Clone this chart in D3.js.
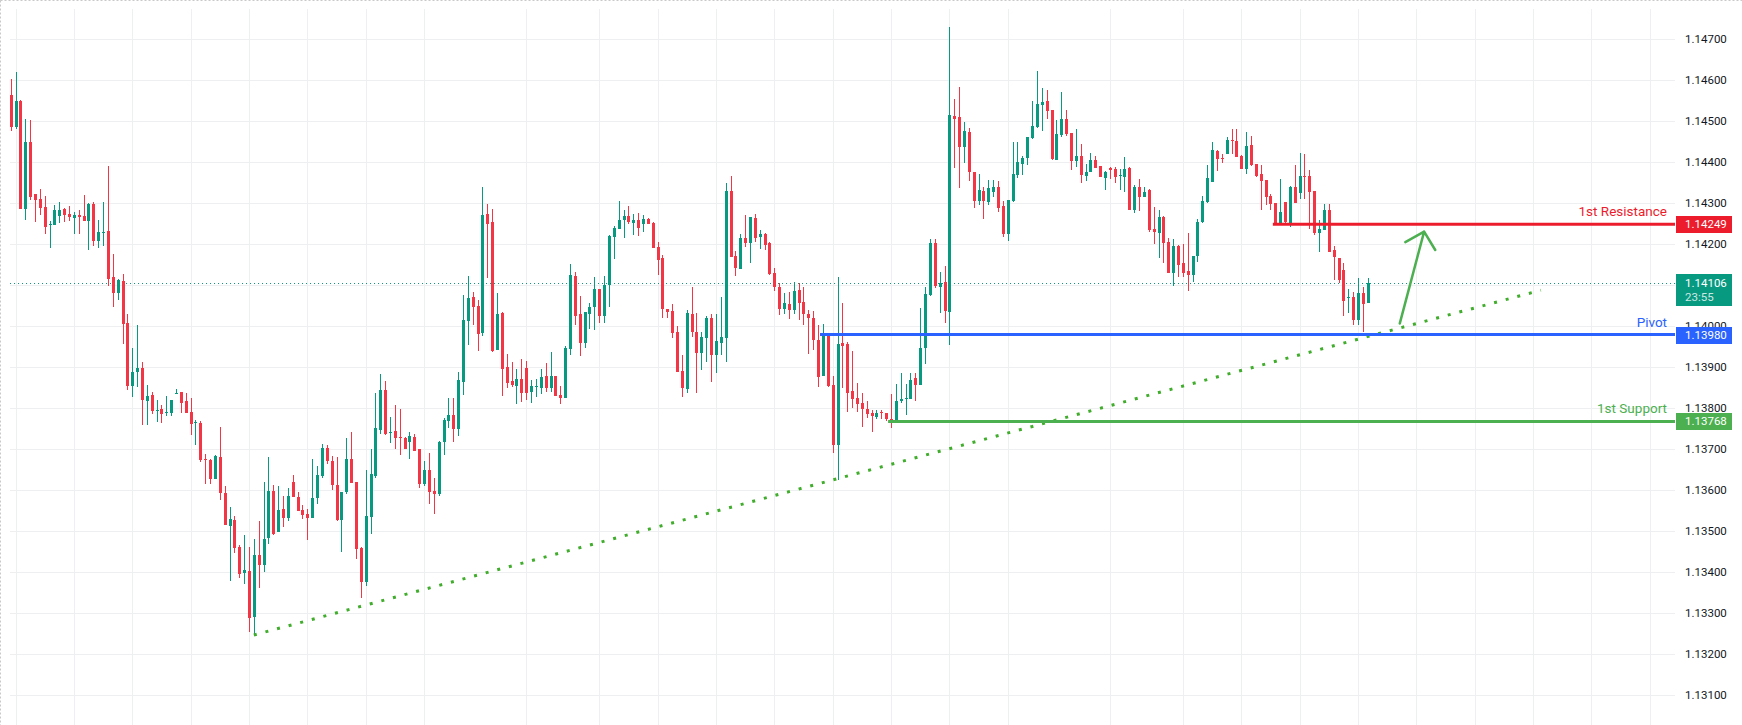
<!DOCTYPE html>
<html>
<head>
<meta charset="utf-8">
<script src="https://cdn.jsdelivr.net/npm/d3@7/dist/d3.min.js"></script>
<style>
  body { margin: 0; background: #fff; }
  svg { display: block; font-family: Roboto, "Noto Sans", sans-serif; }
</style>
</head>
<body>
<svg width="1742" height="725"></svg>
<script>
// hourly EUR/USD style candles
const opens = [1.14564,1.14485,1.14550,1.14285,1.14450,1.14322,1.14311,1.14291,1.14246,1.14248,
  1.14270,1.14286,1.14275,1.14265,1.14272,1.14269,1.14258,1.14298,1.14209,1.14228,
  1.14233,1.14120,1.14082,1.14111,1.14008,1.13854,1.13889,1.13898,1.13818,1.13833,
  1.13794,1.13798,1.13789,1.13789,1.13835,1.13840,1.13818,1.13791,1.13764,1.13764,
  1.13677,1.13674,1.13628,1.13681,1.13594,1.13513,1.13528,1.13462,1.13398,1.13403,
  1.13291,1.13442,1.13418,1.13484,1.13598,1.13498,1.13554,1.13533,1.13620,1.13584,
  1.13552,1.13542,1.13533,1.13581,1.13635,1.13703,1.13672,1.13613,1.13528,1.13596,
  1.13677,1.13620,1.13459,1.13377,1.13535,1.13635,1.13747,1.13845,1.13740,1.13745,
  1.13730,1.13728,1.13718,1.13730,1.13701,1.13616,1.13650,1.13598,1.13591,1.13718,
  1.13769,1.13784,1.13750,1.13864,1.14013,1.14072,1.14050,1.13984,1.14274,1.14255,
  1.13942,1.14033,1.13901,1.13867,1.13854,1.13872,1.13898,1.13840,1.13852,1.13850,
  1.13879,1.13850,1.13879,1.13833,1.13825,1.13945,1.14123,1.14030,1.13959,1.14030,
  1.14047,1.14091,1.14025,1.14101,1.14218,1.14238,1.14259,1.14269,1.14252,1.14259,
  1.14250,1.14262,1.14252,1.14194,1.14167,1.14042,1.14037,1.13986,1.13891,1.13847,
  1.14030,1.13986,1.13935,1.13972,1.14020,1.13930,1.13959,1.13972,1.14330,1.14172,
  1.14140,1.14216,1.14203,1.14264,1.14218,1.14225,1.14203,1.14130,1.14096,1.14042,
  1.14054,1.14040,1.14089,1.14059,1.14030,1.14020,1.13967,1.13879,1.13981,1.13857,
  1.13711,1.13959,1.13957,1.13842,1.13825,1.13813,1.13798,1.13789,1.13779,1.13791,
  1.13789,1.13774,1.13767,1.13818,1.13823,1.13823,1.13874,1.13857,1.13947,1.14077,
  1.14203,1.14096,1.14108,1.14035,1.14513,1.14511,1.14438,1.14474,1.14377,1.14306,
  1.14330,1.14303,1.14328,1.14340,1.14294,1.14225,1.14306,1.14369,1.14396,1.14411,
  1.14459,1.14486,1.14540,1.14550,1.14528,1.14406,1.14467,1.14506,1.14472,1.14403,
  1.14416,1.14367,1.14377,1.14406,1.14391,1.14362,1.14386,1.14384,1.14367,1.14364,
  1.14386,1.14284,1.14340,1.14315,1.14333,1.14238,1.14228,1.14267,1.14206,1.14130,
  1.14196,1.14155,1.14135,1.14125,1.14172,1.14255,1.14303,1.14352,1.14428,1.14411,
  1.14420,1.14455,1.14452,1.14416,1.14384,1.14442,1.14396,1.14372,1.14357,1.14318,
  1.14301,1.14250,1.14303,1.14247,1.14340,1.14325,1.14367,1.14367,1.14330,1.14228,
  1.14235,1.14284,1.14186,1.14167,1.14138,1.14069,1.14072,1.14016,1.14081,1.14057];

const highs = [1.14603,1.14620,1.14552,1.14506,1.14503,1.14322,1.14335,1.14318,1.14257,1.14296,
  1.14303,1.14289,1.14294,1.14279,1.14284,1.14320,1.14301,1.14303,1.14259,1.14303,
  1.14391,1.14177,1.14116,1.14128,1.14030,1.13947,1.14003,1.13913,1.13857,1.13840,
  1.13820,1.13808,1.13830,1.13820,1.13847,1.13840,1.13838,1.13825,1.13772,1.13769,
  1.13689,1.13677,1.13686,1.13755,1.13611,1.13559,1.13538,1.13467,1.13491,1.13462,
  1.13481,1.13525,1.13620,1.13681,1.13613,1.13611,1.13586,1.13606,1.13637,1.13596,
  1.13564,1.13554,1.13677,1.13659,1.13713,1.13711,1.13684,1.13681,1.13596,1.13728,
  1.13742,1.13620,1.13462,1.13650,1.13701,1.13838,1.13884,1.13867,1.13779,1.13808,
  1.13798,1.13730,1.13742,1.13738,1.13701,1.13672,1.13691,1.13630,1.13720,1.13776,
  1.13825,1.13825,1.13889,1.14077,1.14123,1.14084,1.14064,1.14340,1.14298,1.14286,
  1.14081,1.14035,1.13933,1.13913,1.13896,1.13920,1.13916,1.13869,1.13872,1.13896,
  1.13911,1.13937,1.13879,1.13854,1.13952,1.14152,1.14133,1.14074,1.14035,1.14057,
  1.14120,1.14091,1.14123,1.14222,1.14245,1.14306,1.14284,1.14294,1.14274,1.14276,
  1.14272,1.14264,1.14255,1.14206,1.14174,1.14042,1.14054,1.14001,1.13930,1.14040,
  1.14096,1.14033,1.13986,1.14025,1.14030,1.14030,1.14072,1.14350,1.14367,1.14184,
  1.14225,1.14272,1.14267,1.14274,1.14235,1.14228,1.14206,1.14142,1.14106,1.14081,
  1.14084,1.14108,1.14106,1.14096,1.14040,1.14037,1.14003,1.14006,1.13984,1.13879,
  1.14120,1.14057,1.13962,1.13940,1.13862,1.13838,1.13818,1.13796,1.13796,1.13796,
  1.13789,1.13835,1.13859,1.13886,1.13859,1.13886,1.13886,1.14045,1.14096,1.14213,
  1.14213,1.14133,1.14147,1.14730,1.14555,1.14584,1.14498,1.14484,1.14377,1.14372,
  1.14340,1.14357,1.14357,1.14355,1.14306,1.14308,1.14450,1.14450,1.14416,1.14462,
  1.14550,1.14623,1.14581,1.14577,1.14528,1.14503,1.14572,1.14528,1.14472,1.14481,
  1.14445,1.14396,1.14423,1.14416,1.14391,1.14379,1.14389,1.14389,1.14384,1.14413,
  1.14389,1.14345,1.14359,1.14340,1.14335,1.14291,1.14284,1.14269,1.14216,1.14213,
  1.14198,1.14201,1.14228,1.14172,1.14262,1.14318,1.14394,1.14450,1.14430,1.14420,
  1.14462,1.14481,1.14481,1.14418,1.14474,1.14464,1.14396,1.14394,1.14357,1.14323,
  1.14301,1.14359,1.14303,1.14342,1.14394,1.14423,1.14420,1.14381,1.14330,1.14259,
  1.14298,1.14298,1.14196,1.14167,1.14155,1.14091,1.14084,1.14118,1.14096,1.14118];

const lows = [1.14477,1.14481,1.14285,1.14260,1.14307,1.14255,1.14272,1.14225,1.14192,1.14248,
  1.14253,1.14255,1.14258,1.14226,1.14226,1.14258,1.14187,1.14197,1.14192,1.14197,
  1.14099,1.14048,1.14063,1.13958,1.13845,1.13828,1.13852,1.13759,1.13759,1.13786,
  1.13767,1.13764,1.13781,1.13781,1.13835,1.13789,1.13789,1.13735,1.13711,1.13669,
  1.13616,1.13616,1.13628,1.13577,1.13516,1.13379,1.13447,1.13386,1.13372,1.13255,
  1.13247,1.13362,1.13401,1.13469,1.13491,1.13498,1.13511,1.13525,1.13584,1.13550,
  1.13530,1.13479,1.13533,1.13567,1.13630,1.13664,1.13601,1.13525,1.13450,1.13591,
  1.13618,1.13433,1.13338,1.13367,1.13494,1.13630,1.13738,1.13735,1.13715,1.13701,
  1.13686,1.13701,1.13677,1.13696,1.13606,1.13611,1.13567,1.13542,1.13586,1.13686,
  1.13752,1.13718,1.13733,1.13833,1.13955,1.14003,1.13940,1.13976,1.14118,1.13937,
  1.13942,1.13830,1.13850,1.13852,1.13811,1.13816,1.13820,1.13813,1.13828,1.13835,
  1.13840,1.13840,1.13830,1.13811,1.13825,1.13930,1.14003,1.13928,1.13947,1.13994,
  1.13991,1.14008,1.14008,1.14047,1.14164,1.14238,1.14216,1.14250,1.14223,1.14220,
  1.14230,1.14250,1.14191,1.14125,1.14020,1.14020,1.13972,1.13889,1.13828,1.13838,
  1.13974,1.13838,1.13894,1.13913,1.13864,1.13886,1.13930,1.13913,1.14169,1.14123,
  1.14140,1.14194,1.14155,1.14206,1.14189,1.14186,1.14125,1.14086,1.14028,1.14030,
  1.14018,1.14030,1.14015,1.14003,1.13933,1.13942,1.13852,1.13879,1.13852,1.13691,
  1.13625,1.13850,1.13791,1.13801,1.13791,1.13755,1.13776,1.13742,1.13774,1.13774,
  1.13768,1.13752,1.13767,1.13813,1.13784,1.13823,1.13818,1.13857,1.13908,1.14074,
  1.14094,1.14033,1.14008,1.13955,1.14386,1.14338,1.14398,1.14355,1.14289,1.14296,
  1.14262,1.14296,1.14315,1.14279,1.14218,1.14208,1.14303,1.14362,1.14369,1.14394,
  1.14457,1.14484,1.14476,1.14506,1.14406,1.14406,1.14462,1.14464,1.14381,1.14389,
  1.14350,1.14355,1.14377,1.14386,1.14364,1.14333,1.14359,1.14350,1.14333,1.14328,
  1.14284,1.14276,1.14281,1.14315,1.14230,1.14201,1.14167,1.14155,1.14130,1.14098,
  1.14120,1.14120,1.14086,1.14108,1.14157,1.14252,1.14301,1.14352,1.14379,1.14398,
  1.14420,1.14420,1.14413,1.14384,1.14372,1.14391,1.14364,1.14284,1.14296,1.14284,
  1.14250,1.14250,1.14250,1.14242,1.14301,1.14311,1.14311,1.14238,1.14223,1.14181,
  1.14235,1.14181,1.14113,1.14106,1.14025,1.14033,1.14003,1.14003,1.13986,1.14057];

const closes = [1.14485,1.14550,1.14285,1.14450,1.14316,1.14309,1.14289,1.14243,1.14250,1.14284,
  1.14284,1.14272,1.14267,1.14272,1.14267,1.14258,1.14298,1.14209,1.14230,1.14230,
  1.14116,1.14082,1.14114,1.14006,1.13854,1.13889,1.13898,1.13820,1.13830,1.13794,
  1.13796,1.13786,1.13791,1.13820,1.13838,1.13813,1.13789,1.13762,1.13767,1.13674,
  1.13674,1.13628,1.13684,1.13594,1.13516,1.13530,1.13459,1.13396,1.13406,1.13289,
  1.13442,1.13418,1.13481,1.13598,1.13494,1.13552,1.13533,1.13586,1.13584,1.13550,
  1.13540,1.13533,1.13581,1.13637,1.13703,1.13672,1.13613,1.13528,1.13596,1.13677,
  1.13618,1.13457,1.13377,1.13538,1.13640,1.13752,1.13845,1.13738,1.13742,1.13728,
  1.13728,1.13701,1.13733,1.13696,1.13616,1.13650,1.13596,1.13591,1.13718,1.13772,
  1.13784,1.13750,1.13869,1.14016,1.14069,1.14047,1.13981,1.14272,1.14250,1.13940,
  1.14030,1.13896,1.13862,1.13857,1.13872,1.13838,1.13838,1.13854,1.13854,1.13876,
  1.13850,1.13879,1.13830,1.13825,1.13947,1.14125,1.14025,1.13959,1.14035,1.14047,
  1.14091,1.14025,1.14101,1.14220,1.14240,1.14259,1.14269,1.14255,1.14259,1.14240,
  1.14262,1.14250,1.14191,1.14162,1.14042,1.14035,1.13984,1.13889,1.13850,1.14033,
  1.13986,1.13935,1.13974,1.14020,1.13930,1.13964,1.13974,1.14330,1.14169,1.14142,
  1.14216,1.14203,1.14267,1.14216,1.14225,1.14198,1.14128,1.14096,1.14042,1.14057,
  1.14040,1.14086,1.14057,1.14030,1.14020,1.13967,1.13876,1.13984,1.13854,1.13711,
  1.13957,1.13952,1.13838,1.13823,1.13811,1.13798,1.13786,1.13781,1.13789,1.13789,
  1.13774,1.13767,1.13818,1.13823,1.13825,1.13869,1.13857,1.13947,1.14079,1.14203,
  1.14098,1.14106,1.14037,1.14516,1.14506,1.14438,1.14476,1.14377,1.14306,1.14333,
  1.14306,1.14338,1.14340,1.14289,1.14225,1.14308,1.14372,1.14401,1.14411,1.14462,
  1.14489,1.14542,1.14547,1.14525,1.14408,1.14469,1.14506,1.14469,1.14403,1.14416,
  1.14369,1.14377,1.14406,1.14386,1.14364,1.14377,1.14381,1.14364,1.14369,1.14384,
  1.14284,1.14340,1.14315,1.14328,1.14235,1.14230,1.14267,1.14203,1.14130,1.14196,
  1.14150,1.14130,1.14125,1.14172,1.14255,1.14306,1.14362,1.14430,1.14408,1.14408,
  1.14455,1.14452,1.14413,1.14384,1.14440,1.14394,1.14367,1.14355,1.14315,1.14298,
  1.14250,1.14279,1.14255,1.14340,1.14301,1.14367,1.14364,1.14328,1.14228,1.14238,
  1.14284,1.14181,1.14169,1.14113,1.14062,1.14072,1.14016,1.14081,1.14054,1.14106];

const priceTicks = [1.147, 1.146, 1.145, 1.144, 1.143, 1.142, 1.141, 1.140,
  1.139, 1.138, 1.137, 1.136, 1.135, 1.134, 1.133, 1.132, 1.131];
const gridBars = [1, 13, 25, 37, 49, 61, 73, 85, 106, 121, 133, 145, 157, 169, 181,
  193, 205, 226, 241, 253, 265, 277, 289, 301, 313, 325, 337];

const lastPrice = 1.14106;
const countdown = '23:55';

const levelNames = ['1st Resistance', 'Pivot', '1st Support'];
const levelPrices = [1.14249, 1.13980, 1.13768];
const levelStart = [259.5, 166.4, 180.4];

const trendBars = [50, 314.6];
const trendPrices = [1.13247, 1.14088];
const arrowBars = [285.6, 290.6];
const arrowPrices = [1.14007, 1.14231];

const svg = d3.select('svg');
const width = +svg.attr('width');
const height = +svg.attr('height');

const plot = { left: 10, top: 9, right: 1675, bottom: height };
const upColor = '#089981', downColor = '#f23645';
const levelColors = ['#ec1c2c', '#2962ff', '#4caf50'];
const fmt = d3.format('.5f');

const x = d3.scaleLinear().domain([0, opens.length - 1]).range([10.64, 1367.7]);
const y = d3.scaleLinear().domain([1.131, 1.147]).range([695.3, 39.3]);

const candles = opens.map((o, i) => ({ i, o, h: highs[i], l: lows[i], c: closes[i] }));

// frame of the screenshot
svg.append('rect')
  .attr('x', 0.5).attr('y', 0.5).attr('width', width + 2).attr('height', height + 2)
  .attr('fill', 'none').attr('stroke', '#c9c9c9').attr('stroke-dasharray', '2 2');

const defs = svg.append('defs');
defs.append('clipPath').attr('id', 'plot-clip')
  .append('rect')
  .attr('x', plot.left).attr('y', plot.top)
  .attr('width', plot.right - plot.left).attr('height', plot.bottom - plot.top);

const g = svg.append('g').attr('clip-path', 'url(#plot-clip)');

// grid
g.append('g').selectAll('line').data(priceTicks)
  .enter().append('line')
  .attr('x1', plot.left).attr('x2', plot.right)
  .attr('y1', d => Math.round(y(d)) + 0.5).attr('y2', d => Math.round(y(d)) + 0.5)
  .attr('stroke', '#eeeff1');

g.append('g').selectAll('line').data(gridBars)
  .enter().append('line')
  .attr('x1', d => Math.round(x(d)) + 0.5).attr('x2', d => Math.round(x(d)) + 0.5)
  .attr('y1', plot.top).attr('y2', plot.bottom)
  .attr('stroke', '#eeeff1');

// last price line
g.append('line')
  .attr('x1', plot.left).attr('x2', plot.right)
  .attr('y1', Math.round(y(lastPrice)) + 0.5).attr('y2', Math.round(y(lastPrice)) + 0.5)
  .attr('stroke', upColor).attr('stroke-dasharray', '1 3');

// candles
const cg = g.append('g').attr('shape-rendering', 'crispEdges');
const colorOf = d => d.c >= d.o ? upColor : downColor;

cg.selectAll('.wick').data(candles)
  .enter().append('rect')
  .attr('class', 'wick')
  .attr('x', d => Math.round(x(d.i)) )
  .attr('width', 1)
  .attr('y', d => Math.round(y(d.h)))
  .attr('height', d => Math.max(1, Math.round(y(d.l)) - Math.round(y(d.h))))
  .attr('fill', colorOf);

cg.selectAll('.body').data(candles)
  .enter().append('rect')
  .attr('class', 'body')
  .attr('x', d => Math.round(x(d.i)) - 1)
  .attr('width', 3)
  .attr('y', d => Math.round(y(Math.max(d.o, d.c))))
  .attr('height', d => Math.max(1, Math.round(y(Math.min(d.o, d.c))) - Math.round(y(Math.max(d.o, d.c)))))
  .attr('fill', colorOf);

// rising trend line, dotted
g.append('line')
  .attr('x1', x(trendBars[0])).attr('y1', y(trendPrices[0]))
  .attr('x2', x(trendBars[1])).attr('y2', y(trendPrices[1]))
  .attr('stroke', '#41ad2c').attr('stroke-width', 3)
  .attr('stroke-dasharray', '3 9');

// horizontal levels
levelPrices.forEach((p, k) => {
  g.append('line')
    .attr('x1', x(levelStart[k])).attr('x2', plot.right)
    .attr('y1', y(p)).attr('y2', y(p))
    .attr('stroke', levelColors[k]).attr('stroke-width', 3);
  svg.append('text')
    .attr('x', 1667).attr('y', y(p) - 8)
    .attr('text-anchor', 'end')
    .attr('font-size', 13.5)
    .attr('fill', levelColors[k])
    .text(levelNames[k]);
});

// arrow
const ax0 = x(arrowBars[0]), ay0 = y(arrowPrices[0]);
const ax1 = x(arrowBars[1]), ay1 = y(arrowPrices[1]);
const ang = Math.atan2(ay0 - ay1, ax0 - ax1);
const wing = 21.5, spread = 46 * Math.PI / 180;
const arrowPath = d3.path();
arrowPath.moveTo(ax0, ay0);
arrowPath.lineTo(ax1, ay1);
arrowPath.moveTo(ax1 + wing * Math.cos(ang + spread), ay1 + wing * Math.sin(ang + spread));
arrowPath.lineTo(ax1, ay1);
arrowPath.lineTo(ax1 + wing * Math.cos(ang - spread), ay1 + wing * Math.sin(ang - spread));
g.append('path')
  .attr('d', arrowPath.toString())
  .attr('fill', 'none').attr('stroke', '#4caf50').attr('stroke-width', 2.5)
  .attr('stroke-linecap', 'round').attr('stroke-linejoin', 'round');

// price scale; the tick hidden under the last-price tag is not drawn
const ly = Math.round(y(lastPrice));
const visibleTicks = priceTicks.filter(t => Math.abs(y(t) - (ly + 7)) > 18);

const axis = svg.append('g');
axis.selectAll('text').data(visibleTicks)
  .enter().append('text')
  .attr('x', 1685).attr('y', d => y(d))
  .attr('dy', '0.35em')
  .attr('font-size', 11.5)
  .attr('fill', '#131722')
  .text(fmt);

const boxX = 1676, boxW = 56;
levelPrices.forEach((p, k) => {
  axis.append('rect')
    .attr('x', boxX).attr('y', Math.round(y(p)) - 8)
    .attr('width', boxW).attr('height', 17)
    .attr('fill', levelColors[k]);
  axis.append('text')
    .attr('x', 1685).attr('y', y(p)).attr('dy', '0.35em')
    .attr('font-size', 11.5).attr('fill', '#fff')
    .text(fmt(p));
});

axis.append('rect')
  .attr('x', boxX).attr('y', ly - 9)
  .attr('width', boxW).attr('height', 32)
  .attr('fill', upColor);
axis.append('text')
  .attr('x', 1685).attr('y', ly).attr('dy', '0.35em')
  .attr('font-size', 11.5).attr('fill', '#fff')
  .text(fmt(lastPrice));
axis.append('text')
  .attr('x', 1685).attr('y', ly + 14).attr('dy', '0.35em')
  .attr('font-size', 11.5).attr('fill', '#fff').attr('fill-opacity', 0.8)
  .text(countdown);
</script>
</body>
</html>
